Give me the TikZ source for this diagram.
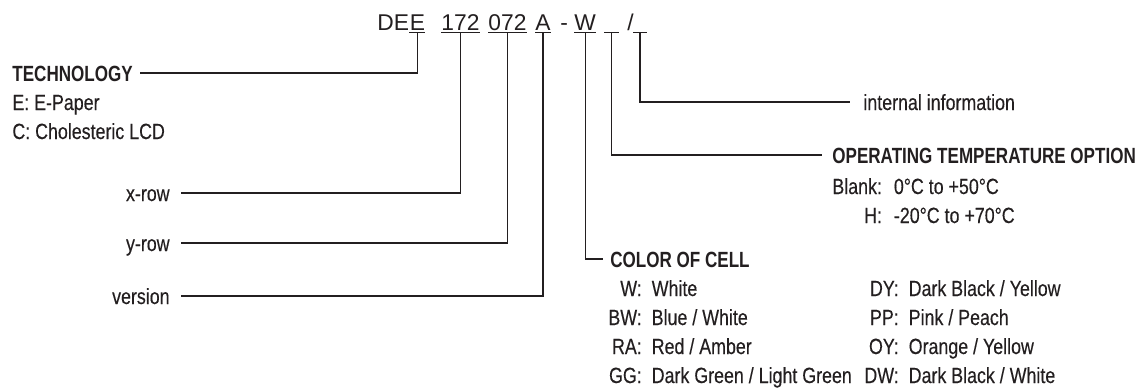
\documentclass[tikz,border=0pt]{standalone}
\usepackage{fontspec}
\setmainfont{Liberation Sans}[FakeStretch=0.81, FakeBold=0.3]
\newfontfamily\headfont{Liberation Sans}[FakeStretch=0.775]
\newfontfamily\codefont{Liberation Sans}
\usetikzlibrary{positioning}
\definecolor{ink}{RGB}{35,31,32}

\begin{document}
\begin{tikzpicture}[x=0.5pt, y=-0.5pt, every node/.style={text=ink},
    code/.style={font=\codefont\fontsize{11.4}{13}\selectfont, inner sep=0pt},
    lbl/.style={font=\fontsize{11}{14.5}\selectfont, inner xsep=3.5pt, inner ysep=0pt, text height=8pt, text depth=0pt},
    head/.style={lbl, font=\headfont\bfseries\fontsize{11}{14.5}\selectfont},
    list/.style={font=\fontsize{11}{14.5}\selectfont, inner sep=0pt, anchor=base west},
    wire/.style={draw=ink, line width=0.6pt}]
    \useasboundingbox (0,0) rectangle (1144,388);

    % part number
    \node[code, anchor=base west] (cDE) at (377,30.7) {DE};
    \node[code] (cE) [right=0pt of cDE] {E};
    \node[code, anchor=base west] (c172) at (441,30.7) {172};
    \node[code, anchor=base west] (c072) at (488,30.7) {072};
    \node[code, anchor=base west] (cA) at (535,30.7) {A};
    \node[code, anchor=base west] (cdash) at (560,30.7) {-};
    \node[code, anchor=base west] (cW) at (574,30.7) {W};
    \node[code, anchor=base west, minimum width=7pt] (cT) at (604,30.7) {};
    \node[code, anchor=base west] (cslash) at (627,30.7) {/};
    \node[code, anchor=base west, minimum width=6.5pt] (cI) at (633,30.7) {};
    \foreach \n in {cE,c172,c072,cA,cW,cT,cI}
      \draw[wire] ([yshift=-0.8pt]\n.base west) -- ([yshift=-0.8pt]\n.base east);

    % left side
    \node[head, anchor=west] (tech) at (5,73) {TECHNOLOGY};
    \node[list] (techlist) at (12,110) {\begin{tabular}[t]{@{}l@{}}E: E-Paper\\C: Cholesteric LCD\end{tabular}};
    \node[lbl, anchor=east, inner xsep=5.5pt] (xrow) at (181,193) {x-row};
    \node[lbl, anchor=east, inner xsep=5.5pt] (yrow) at (181,243) {y-row};
    \node[lbl, anchor=east, inner xsep=5.5pt] (version) at (181,296) {version};

    % right side
    \node[lbl, anchor=west, inner xsep=6.5pt] (intern) at (850,102) {internal information};
    \node[head, anchor=west, inner xsep=5pt] (temp) at (822,155) {OPERATING TEMPERATURE OPTION};
    \node[list] (templist) at (832,194) {\begin{tabular}[t]{@{}r@{:\hspace{6pt}}l@{}}Blank&0°C to +50°C\\H&-20°C to +70°C\end{tabular}};
    \node[head, anchor=west] (color) at (603,259) {COLOR OF CELL};
    \node[list] (colorA) at (608,296) {\begin{tabular}[t]{@{}r@{:\hspace{5pt}}l@{}}W&White\\BW&Blue / White\\RA&Red / Amber\\GG&Dark Green / Light Green\end{tabular}};
    \node[list] (colorB) at (864,296) {\begin{tabular}[t]{@{}r@{:\hspace{5pt}}l@{}}DY&Dark Black / Yellow\\PP&Pink / Peach\\OY&Orange / Yellow\\DW&Dark Black / White\end{tabular}};

    \draw[wire] ([yshift=-0.8pt]cE.base) |- (tech.east);
    \draw[wire] ([yshift=-0.8pt]c172.base) |- (xrow.east);
    \draw[wire] ([yshift=-0.8pt]c072.base) |- (yrow.east);
    \draw[wire] ([yshift=-0.8pt]cA.base) |- (version.east);
    \draw[wire] ([yshift=-0.8pt]cW.base) |- (color.west);
    \draw[wire] ([yshift=-0.8pt]cT.base) |- (temp.west);
    \draw[wire] ([yshift=-0.8pt]cI.base) |- (intern.west);
\end{tikzpicture}
\end{document}
